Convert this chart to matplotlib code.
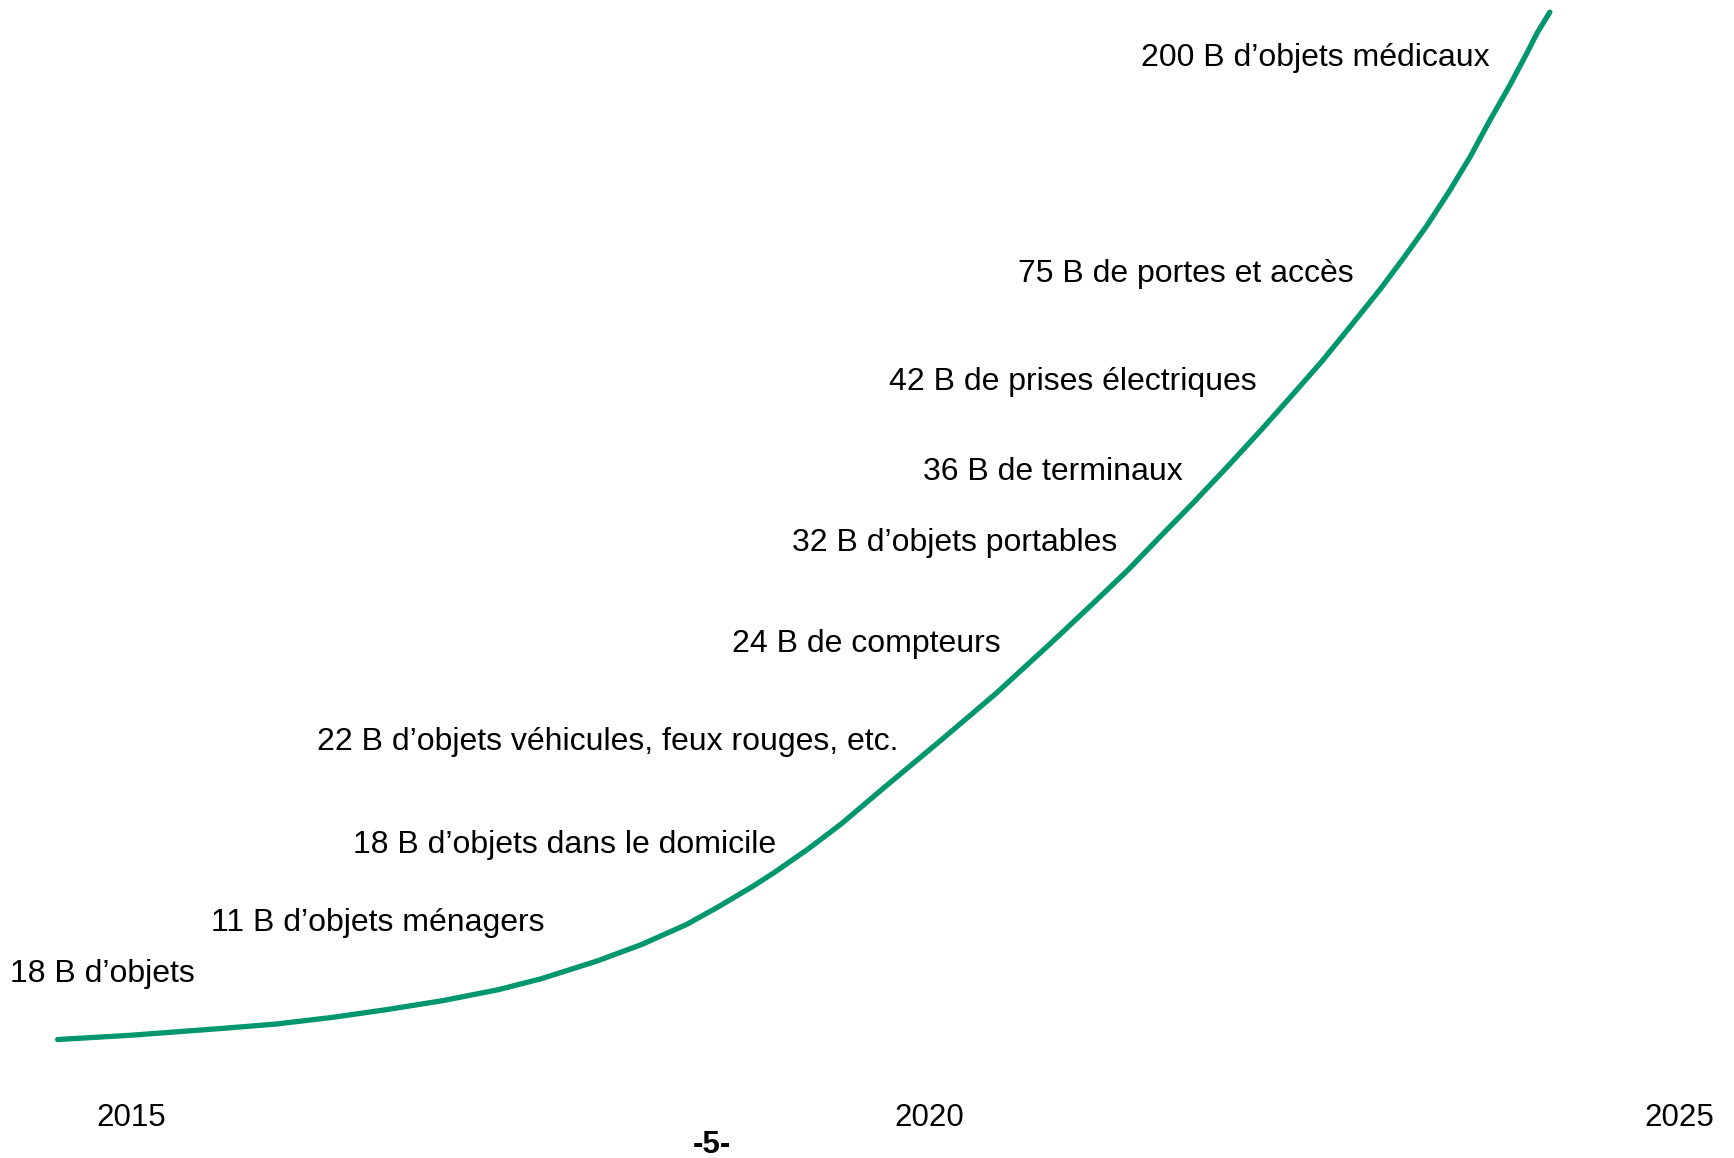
import matplotlib.pyplot as plt

# courbe de croissance (annee, indice)
years = [2014.54, 2015.01, 2015.57, 2015.91, 2016.26, 2016.60, 2016.95, 2017.30,
         2017.57, 2017.92, 2018.20, 2018.48, 2018.68, 2018.89, 2019.03, 2019.24,
         2019.45, 2019.72, 2020.07, 2020.42, 2020.76, 2021.04, 2021.25, 2021.45,
         2021.66, 2021.87, 2022.08, 2022.29, 2022.46, 2022.63, 2022.83, 2022.98,
         2023.12, 2023.26, 2023.39, 2023.51, 2023.64, 2023.75, 2023.81, 2023.89]
index = [10.23, 10.61, 11.19, 11.57, 12.14, 12.81, 13.58, 14.53,
         15.48, 17.01, 18.44, 20.16, 21.69, 23.41, 24.65, 26.66,
         28.85, 32.00, 36.02, 40.12, 44.42, 48.05, 50.82, 53.68,
         56.64, 59.70, 62.85, 66.10, 68.77, 71.64, 75.07, 77.84,
         80.52, 83.48, 86.44, 89.50, 92.65, 95.51, 97.14, 98.95]

# etiquettes (texte, annee du bord droit, indice)
labels = ["200 B d’objets médicaux", "75 B de portes et accès", "42 B de prises électriques",
          "36 B de terminaux", "32 B d’objets portables", "24 B de compteurs",
          "22 B d’objets véhicules, feux rouges, etc.", "18 B d’objets dans le domicile",
          "11 B d’objets ménagers", "18 B d’objets"]
label_x = [2023.51, 2022.66, 2022.05, 2021.59, 2021.18, 2020.45, 2019.81, 2019.04, 2017.59, 2015.40]
label_y = [95.0, 76.3, 67.05, 59.2, 53.1, 44.4, 35.9, 27.0, 20.3, 15.9]

year_ticks = [2015, 2020, 2024.7]
year_labels = ["2015", "2020", "2025"]

plt.rcParams["font.family"] = ["Liberation Sans", "DejaVu Sans"]

fig = plt.figure(figsize=(17.34, 11.58), dpi=100)
ax = fig.add_axes([0, 0, 1, 1])
ax.set_xlim(2014.179, 2025.044)
ax.set_ylim(0, 100)
ax.axis("off")

ax.plot(years, index, color="#00966E", lw=3.8, solid_capstyle="round", solid_joinstyle="round")

for t, x, y in zip(labels, label_x, label_y):
    ax.text(x, y, t, ha="right", va="center", fontsize=23, color="black")

for x, t in zip(year_ticks, year_labels):
    ax.text(x, 3.45, t, ha="center", va="center", fontsize=22.5, color="black")

fig.text(712 / 1734, 1 - 1145 / 1158, "-5-", ha="center", va="center",
         fontsize=22.5, fontweight="bold")

fig.savefig("out.png", dpi=100)
